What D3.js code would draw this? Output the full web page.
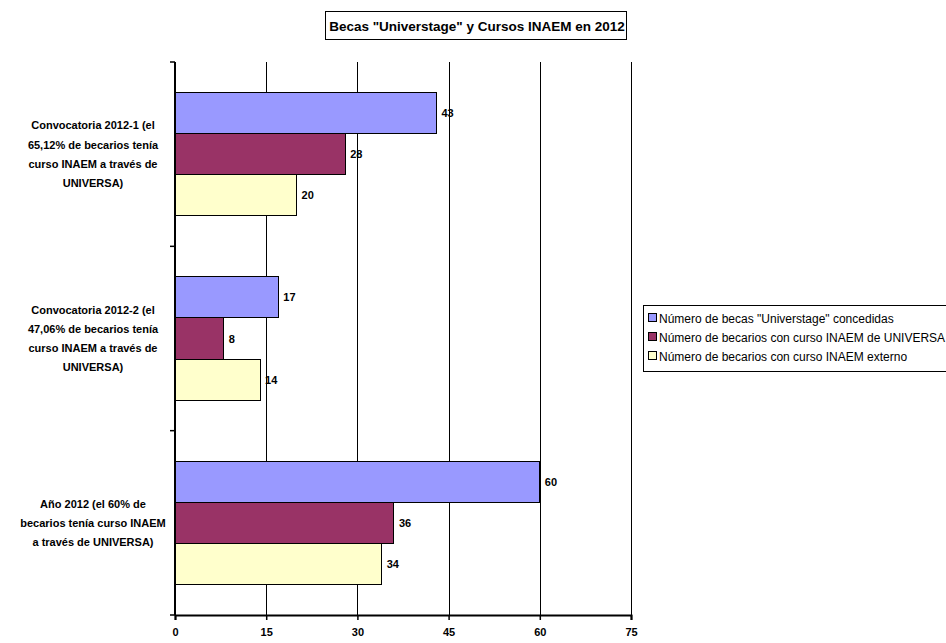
<!DOCTYPE html>
<html><head><meta charset="utf-8">
<script src="https://cdn.jsdelivr.net/npm/d3@7"></script>
<style>body{margin:0;background:#fff}svg{display:block}text{font-family:"Liberation Sans",Arial,sans-serif}</style>
</head><body><svg id="c" width="946" height="643"></svg>
<script>
const title = 'Becas "Universtage" y Cursos INAEM en 2012';
const categories = [
  ["Convocatoria 2012-1 (el", "65,12% de becarios tenía", "curso INAEM a través de", "UNIVERSA)"],
  ["Convocatoria 2012-2 (el", "47,06% de becarios tenía", "curso INAEM a través de", "UNIVERSA)"],
  ["Año 2012 (el 60% de", "becarios tenía curso INAEM", "a través de UNIVERSA)"]
];
const seriesNames = ['Número de becas "Universtage" concedidas', 'Número de becarios con curso INAEM de UNIVERSA', 'Número de becarios con curso INAEM externo'];
const seriesColors = ["#9999FF", "#993366", "#FFFFCC"];
const becas = [43, 17, 60];
const cursoUniversa = [28, 8, 36];
const cursoExterno = [20, 14, 34];
const xTicks = [0, 15, 30, 45, 60, 75];

const series = [becas, cursoUniversa, cursoExterno];
const svg = d3.select("#c");
const L = 175, R = 631, T = 62, B = 615;
const x = d3.scaleLinear().domain([0, 75]).range([L, R]);
const y = d3.scaleBand().domain(d3.range(categories.length)).range([T, B]).padding(0);
const gap = y.bandwidth() * 0.1655;
const inner = d3.scaleBand().domain(d3.range(series.length)).range([gap, y.bandwidth() - gap]).padding(0);

// gridlines
svg.append("g").selectAll("line").data(xTicks.slice(1)).join("line")
  .attr("x1", d => Math.round(x(d)) + 0.5).attr("x2", d => Math.round(x(d)) + 0.5).attr("y1", T).attr("y2", B)
  .attr("stroke", "#000").attr("stroke-width", 1);

// bars
categories.forEach((c, ci) => {
  series.forEach((s, si) => {
    const yy = y(ci) + inner(si);
    svg.append("rect").attr("x", x(0)).attr("y", yy).attr("width", x(s[ci]) - x(0)).attr("height", inner.bandwidth())
      .attr("fill", seriesColors[si]).attr("stroke", "#000").attr("stroke-width", 1).attr("shape-rendering", "crispEdges");
    svg.append("text").attr("x", x(s[ci]) + 5).attr("y", yy + inner.bandwidth() / 2 + 4)
      .attr("font-size", 11).attr("font-weight", "bold").text(s[ci]);
  });
});

// x axis
const xa = svg.append("g").attr("transform", `translate(0,${B})`)
  .call(d3.axisBottom(x).tickValues(xTicks).tickSize(5).tickPadding(8));
xa.select(".domain").attr("stroke-width", 2);
xa.selectAll("line").attr("stroke-width", 1.5);
xa.selectAll("text").attr("font-size", 11).attr("font-weight", "bold").style("font-family", '"Liberation Sans",Arial,sans-serif');

// y axis
const ya = svg.append("g").attr("transform", `translate(${L},0)`)
  .call(d3.axisLeft(y).tickValues([]).tickSize(0));
ya.select(".domain").attr("stroke-width", 2).attr("d", `M0,${T}V${B}`);
const yBounds = [T].concat(d3.range(categories.length).map(i => y(i) + y.bandwidth()));
svg.append("g").selectAll("line").data(yBounds).join("line")
  .attr("x1", L - 5).attr("x2", L).attr("y1", d => d).attr("y2", d => d)
  .attr("stroke", "#000").attr("stroke-width", 1.5);

// category labels
categories.forEach((lines, ci) => {
  const cy = y(ci) + y.bandwidth() / 2;
  const lh = 19.3;
  const t = svg.append("text").attr("text-anchor", "middle").attr("font-size", 11).attr("font-weight", "bold");
  lines.forEach((ln, li) => {
    t.append("tspan").attr("x", 93).attr("y", cy + (li - (lines.length - 1) / 2) * lh + 4).text(ln);
  });
});

// title
svg.append("rect").attr("x", 325.5).attr("y", 11.5).attr("width", 301).attr("height", 28)
  .attr("fill", "#fff").attr("stroke", "#000").attr("stroke-width", 1);
svg.append("text").attr("x", 477).attr("y", 31).attr("text-anchor", "middle")
  .attr("font-size", 13.5).attr("font-weight", "bold").text(title);

// legend
const lg = svg.append("g");
lg.append("rect").attr("x", 643.5).attr("y", 305.5).attr("width", 310).attr("height", 66)
  .attr("fill", "#fff").attr("stroke", "#000");
seriesNames.forEach((n, i) => {
  const ly = 318 + i * 19;
  lg.append("rect").attr("x", 648.5).attr("y", ly - 4.5).attr("width", 8).attr("height", 8)
    .attr("fill", seriesColors[i]).attr("stroke", "#000");
  lg.append("text").attr("x", 659).attr("y", ly + 4.5).attr("font-size", 12).text(n);
});
</script></body></html>
